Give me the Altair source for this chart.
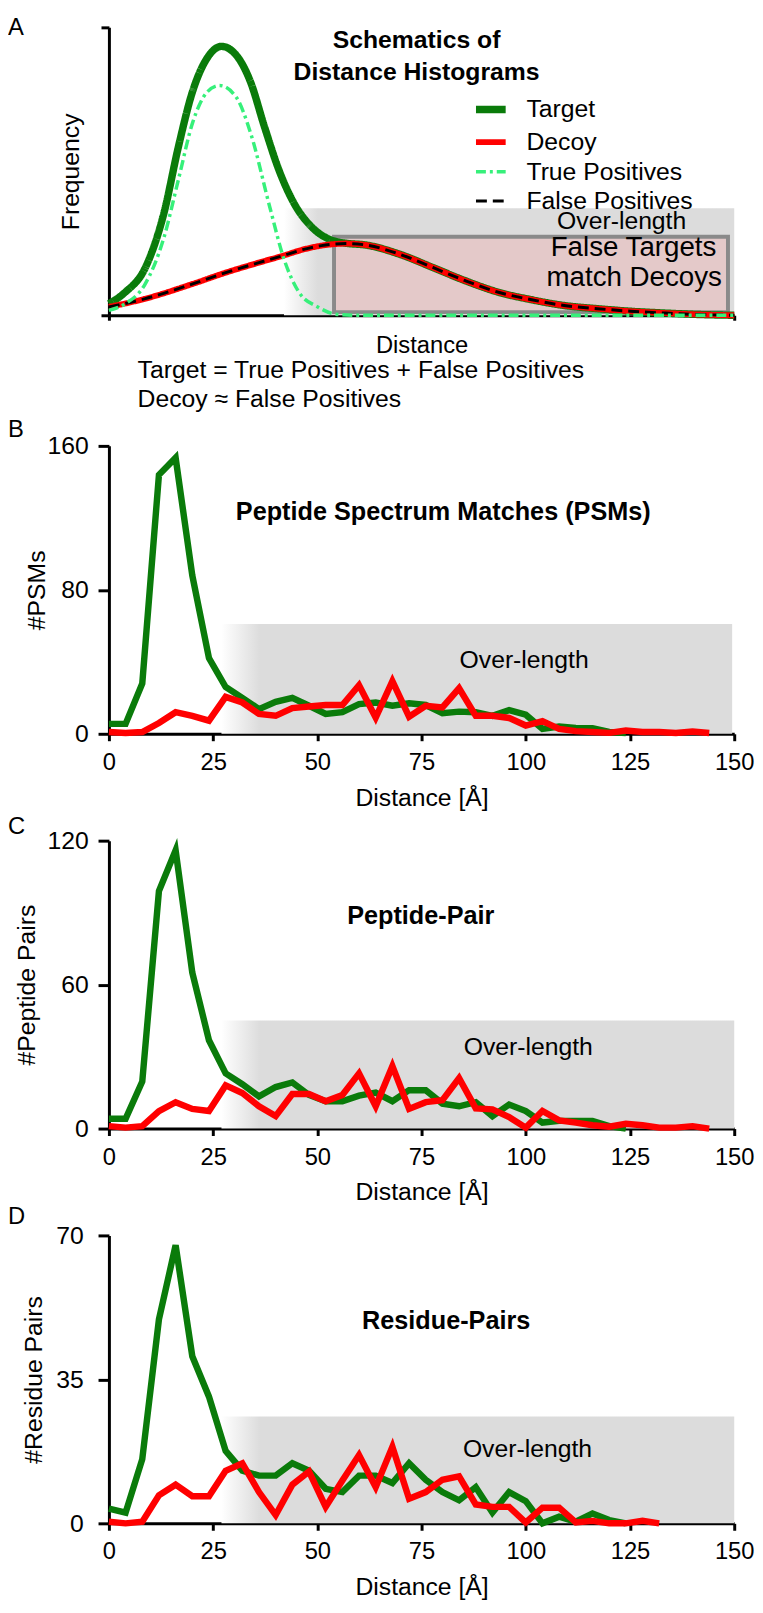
import altair as alt
import pandas as pd

FONT = "Liberation Sans"
GREEN = "#0a7b0a"
RED = "#ff0000"
LIGHT_GREEN = "#36f07a"
GRAY = "#dcdcdc"

# ---------------- Panel A : schematic curves (arbitrary units 0-100) ----------------
a_series = ["Target", "Decoy", "True Positives", "False Positives"]

a_target_x = [0, 2.6, 5.7, 8.8, 11.1, 13.4, 15.7, 18.0, 20.3, 22.6, 24.9, 27.2, 29.6, 32.6,
              35.7, 38.0, 41.1, 46.5, 51.8, 57.0, 62.3, 67.6, 72.8, 78.1, 83.4, 88.6, 93.9, 100]
a_target_y = [4.0, 8.0, 16.0, 35.5, 58.4, 77.9, 89.3, 93.4, 90.5, 81.3, 65.3, 50.4, 38.9, 30.3,
              26.0, 25.0, 24.4, 21.2, 16.6, 12.0, 8.0, 5.4, 3.4, 2.3, 1.4, 0.8, 0.3, 0.0]

a_decoy_x = [0, 5.7, 13.4, 18.8, 24.0, 28.0, 31.0, 34.0, 38.0, 41.1, 46.5, 51.8, 57.0, 62.3,
             67.6, 72.8, 78.1, 83.4, 88.6, 93.9, 100]
a_decoy_y = [2.9, 5.7, 10.9, 14.9, 18.3, 20.8, 22.8, 24.2, 24.9, 24.4, 21.2, 16.6, 12.0, 8.0,
             5.4, 3.4, 2.3, 1.4, 0.8, 0.3, 0.0]

a_fp_x = [0, 5.7, 13.4, 18.8, 24.0, 28.0, 31.0, 34.0, 38.0, 41.1, 46.5, 51.8, 57.0, 62.3,
          67.6, 72.8, 78.1, 83.4, 88.6, 93.9, 100]
a_fp_y = [2.9, 5.7, 10.9, 14.9, 18.3, 20.8, 22.8, 24.2, 24.9, 24.4, 21.2, 16.6, 12.0, 8.0,
          5.4, 3.4, 2.3, 1.4, 0.8, 0.3, 0.0]

a_tp_x = [0, 2.6, 5.7, 8.8, 11.1, 13.4, 15.7, 17.7, 20.4, 22.7, 25.7, 28.0, 30.4, 33.4, 36.5, 40, 100]
a_tp_y = [1.7, 4.0, 10.5, 27.0, 47.0, 67.0, 77.5, 79.8, 75.6, 63.0, 37.8, 19.5, 8.0, 2.9, 0.3, 0.0, 0.0]

# ---------------- Panels B-D : distance histograms ----------------
distance_bins = [0, 4, 8, 12, 16, 20, 24, 28, 32, 36, 40, 44, 48, 52, 56, 60, 64, 68, 72,
                 76, 80, 84, 88, 92, 96, 100, 104, 108, 112, 116, 120, 124, 128, 132, 136, 140, 144]

psm_target = [5.5, 5.5, 27.9, 143.9, 153.4, 88, 42, 26, 20, 13.7, 17.8, 20, 15.6, 11, 12, 16.5,
              17.4, 15.6, 17, 16, 11.4, 12.3, 12, 10, 13.2, 10.6, 2.7, 4, 3.3, 3.1, 1, 0.4,
              None, None, None, None, None]
psm_decoy = [1, 0.4, 1, 6, 12, 10, 7.3, 20.5, 17.4, 11, 10, 14.3, 15.2, 16, 16, 27, 9, 29.3,
             9.5, 15.6, 14.7, 25.3, 10, 10, 8.8, 4.6, 7, 2.7, 1.5, 1, 0.5, 1.8, 1, 1, 0.4, 1.3, 0.4]

pep_target = [4.1, 4.1, 19.6, 99, 116, 65, 36.8, 23, 18.5, 13.4, 17.3, 19.2, 14, 11.4, 11.4,
              13.7, 15, 11.4, 16, 16, 10.4, 9.3, 11, 5.2, 10, 7.3, 2.5, 3.2, 3.2, 3.2, 1, 0,
              None, None, None, None, None]
pep_decoy = [1, 0.4, 1, 7.3, 11, 8.2, 7.3, 18, 14.8, 9.3, 5.2, 14.4, 14.4, 11.4, 14, 23, 9.3,
             26, 8.2, 11, 11.8, 21, 8.4, 8, 4.8, 0.4, 7.3, 3.4, 2.5, 1.4, 0.8, 2, 1.4, 0.4, 0.4, 1, 0]

res_target = [3.6, 2.6, 15.6, 49.6, 67.6, 40.6, 30.8, 17.6, 12.8, 11.6, 11.6, 14.6, 12.8, 8.4,
              7.6, 11.6, 11.6, 9.8, 14.6, 10.6, 7.6, 5.6, 8.8, 2.6, 7.6, 5.4, 0, 1.6, 0.4, 2.4,
              0.8, 0, None, None, None, None, None]
res_decoy = [0.4, 0, 0.4, 6.8, 9.4, 6.6, 6.6, 12.8, 14.6, 7.6, 2, 9.4, 12.6, 4, 10.4, 16.6, 8.8,
             18.6, 6, 7.6, 10.6, 11.4, 4.6, 4, 4, 0.2, 3.8, 3.8, 0.2, 0.6, 0, 0, 0.6, 0,
             None, None, None]

W = 632
H = 291


def gradient():
    return alt.LinearGradient(
        gradient="linear",
        stops=[alt.GradientStop(color="white", offset=0),
               alt.GradientStop(color=GRAY, offset=0.075),
               alt.GradientStop(color=GRAY, offset=1)],
        x1=0, x2=1, y1=0, y2=0)


# ================= Panel A =================
a_xs = alt.Scale(domain=[0, 100], nice=False, zero=False)
a_ys = alt.Scale(domain=[0, 100], nice=False, zero=False, range=[H, 0])
a_xaxis = alt.Axis(values=[0, 100], labels=False, tickSize=5, tickWidth=3, domainWidth=3,
                   domainColor="black", tickColor="black", grid=False, title="Distance",
                   titleFontSize=24, titleFontWeight="normal", titleColor="black",
                   titlePadding=12, offset=-24)
a_yaxis = alt.Axis(values=[0, 100], labels=False, tickSize=8, tickWidth=3, domainWidth=3,
                   domainColor="black", tickColor="black", grid=False, title="Frequency",
                   titleFontSize=25, titleFontWeight="normal", titleColor="black",
                   titlePadding=16)


def AX(f):
    return alt.X(f"{f}:Q", scale=a_xs, axis=a_xaxis)


def AY(f):
    return alt.Y(f"{f}:Q", scale=a_ys, axis=a_yaxis)


legend = alt.Legend(title=None, orient="none", legendX=367, legendY=64, symbolType="stroke",
                    symbolSize=900, labelFontSize=25, labelFont=FONT, labelColor="black",
                    labelOffset=17, rowPadding=0, padding=0, labelLimit=400)
s_color = alt.Color("series:N", scale=alt.Scale(domain=a_series,
                                                 range=[GREEN, RED, LIGHT_GREEN, "black"]),
                    legend=legend)
s_dash = alt.StrokeDash("series:N", scale=alt.Scale(domain=a_series,
                                                     range=[[1, 0], [1, 0], [10, 4, 3, 4], [11, 6]]),
                        legend=legend)
s_width = alt.StrokeWidth("series:N", scale=alt.Scale(type="ordinal", domain=a_series,
                                                       range=[7.5, 6, 3.5, 3]),
                          legend=legend)


def a_line(xs, ys, name):
    df = pd.DataFrame({"x": xs, "y": ys, "series": name})
    return alt.Chart(df).mark_line(interpolate="monotone").encode(
        x=AX("x"), y=AY("y"), color=s_color, strokeDash=s_dash, strokeWidth=s_width)


a_over = alt.Chart(pd.DataFrame({"x0": [28], "x1": [100], "y0": [0], "y1": [37.2]})).mark_rect(
    fill=gradient()).encode(x=AX("x0"), x2="x1", y=AY("y0"), y2="y1")
a_box = alt.Chart(pd.DataFrame({"x0": [36], "x1": [99], "y0": [1.1], "y1": [27.3]})).mark_rect(
    fill="#e4c9c9", stroke="#8a8a8a", strokeWidth=4).encode(x=AX("x0"), x2="x1", y=AY("y0"), y2="y1")

one = pd.DataFrame({"x": [0], "y": [0]})

a_title = alt.Chart(pd.DataFrame({"x": [49.2], "y": [93.0]})).mark_text(
    text=["Schematics of", "Distance Histograms"], lineHeight=32.4, fontSize=25, fontWeight="bold",
    align="center", baseline="alphabetic", color="black").encode(x=AX("x"), y=AY("y"))

a_txt25 = alt.Chart(pd.DataFrame({"x": [82.0], "y": [30.0], "t": ["Over-length"]})).mark_text(
    fontSize=25, align="center", baseline="alphabetic", color="black").encode(
    x=AX("x"), y=AY("y"), text="t:N")
a_txt28 = alt.Chart(pd.DataFrame({"x": [83.9, 84.0], "y": [20.6, 10.1],
                                  "t": ["False Targets", "match Decoys"]})).mark_text(
    fontSize=28, align="center", baseline="alphabetic", color="black").encode(
    x=AX("x"), y=AY("y"), text="t:N")

a_eq1 = alt.Chart(one).mark_text(text="Target = True Positives + False Positives", fontSize=25,
                                 align="left", baseline="alphabetic", color="black").encode(
    x=alt.value(29), y=alt.value(354))
a_eq2 = alt.Chart(one).mark_text(text="Decoy \u2248 False Positives", fontSize=25,
                                 align="left", baseline="alphabetic", color="black").encode(
    x=alt.value(29), y=alt.value(384))


def letter(ch, dy, baseline="alphabetic"):
    return alt.Chart(one).mark_text(text=ch, fontSize=24, align="left", baseline=baseline,
                                    color="black").encode(x=alt.value(-102), y=alt.value(dy))


panel_a = alt.layer(
    a_over, a_box,
    a_line(a_target_x, a_target_y, "Target"),
    a_line(a_decoy_x, a_decoy_y, "Decoy"),
    a_line(a_fp_x, a_fp_y, "False Positives"),
    a_line(a_tp_x, a_tp_y, "True Positives"),
    a_title, a_txt25, a_txt28, a_eq1, a_eq2, letter("A", -11, "top"),
).properties(width=W, height=H + 24)


# ================= Panels B-D =================
def hist_panel(ch, ch_y, target, decoy, ymax, ytitle, ytitle_pad, ylabel_pad, over_top,
               over_right, title, title_xy, over_xy):
    xs = alt.Scale(domain=[0, 150], nice=False, zero=False)
    ys = alt.Scale(domain=[0, ymax], nice=False, zero=False)
    xaxis = alt.Axis(values=[0, 25, 50, 75, 100, 125, 150], tickSize=7, tickWidth=3,
                     domainWidth=3, domainColor="black", tickColor="black", grid=False,
                     labelFontSize=24, labelColor="black", labelPadding=10, labelFlush=False,
                     title="Distance [\u00c5]", titleFontSize=25, titleFontWeight="normal",
                     titleColor="black", titlePadding=11)
    yaxis = alt.Axis(values=[0, ymax / 2, ymax], tickSize=11, tickWidth=3, domainWidth=3,
                     domainColor="black", tickColor="black", grid=False, labelFontSize=25,
                     labelColor="black", labelPadding=ylabel_pad, labelFlush=False,
                     title=ytitle, titleFontSize=25, titleFontWeight="normal",
                     titleColor="black", titlePadding=ytitle_pad)

    def X(f):
        return alt.X(f"{f}:Q", scale=xs, axis=xaxis)

    def Y(f):
        return alt.Y(f"{f}:Q", scale=ys, axis=yaxis)

    over = alt.Chart(pd.DataFrame({"x0": [27], "x1": [over_right], "y0": [0],
                                   "y1": [over_top]})).mark_rect(fill=gradient()).encode(
        x=X("x0"), x2="x1", y=Y("y0"), y2="y1")
    df = pd.DataFrame({"d": distance_bins, "t": target, "c": decoy})
    tline = alt.Chart(df).mark_line(color=GREEN, strokeWidth=6.5).encode(x=X("d"), y=Y("t"))
    dline = alt.Chart(df).mark_line(color=RED, strokeWidth=6.5).encode(x=X("d"), y=Y("c"))
    ttl = alt.Chart(pd.DataFrame({"x": [title_xy[0]], "y": [title_xy[1]], "s": [title]})).mark_text(
        fontSize=25.5, fontWeight="bold", align="center", baseline="alphabetic",
        color="black").encode(x=X("x"), y=Y("y"), text="s:N")
    ovt = alt.Chart(pd.DataFrame({"x": [over_xy[0]], "y": [over_xy[1]], "s": ["Over-length"]})).mark_text(
        fontSize=25, align="center", baseline="alphabetic", color="black").encode(
        x=X("x"), y=Y("y"), text="s:N")
    return alt.layer(over, tline, dline, ttl, ovt, letter(ch, ch_y)).properties(width=W, height=H)


panel_b = hist_panel("B", -9, psm_target, psm_decoy, 160, "#PSMs", -3, 10, 61, 149.5,
                     "Peptide Spectrum Matches (PSMs)", (80.2, 118.9), (99.6, 36.5))
panel_c = hist_panel("C", -7, pep_target, pep_decoy, 120, "#Peptide Pairs", 7, 10, 45, 150,
                     "Peptide-Pair", (74.8, 85.4), (100.6, 30.6))
panel_d = hist_panel("D", -12, res_target, res_decoy, 70, "#Residue Pairs", 9, 15, 26, 150,
                     "Residue-Pairs", (80.9, 47.2), (100.4, 16.2))

chart = alt.vconcat(panel_a, panel_b, panel_c, panel_d, spacing=108, bounds="flush").properties(
    padding=0
).configure(font=FONT).configure_view(strokeWidth=0)

chart.save("out.html", embed_options={"renderer": "svg", "actions": False})
